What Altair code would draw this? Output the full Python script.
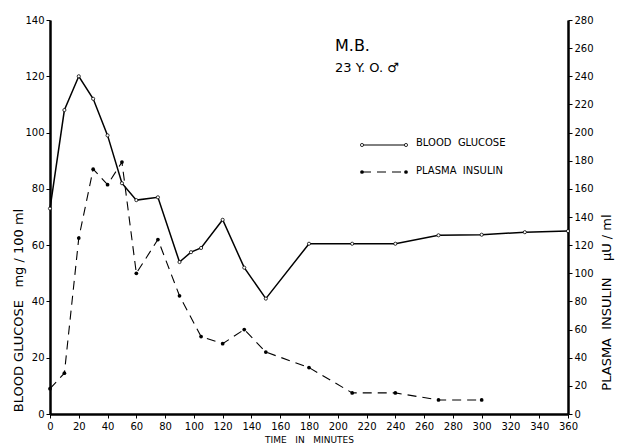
import altair as alt
import pandas as pd

# Blood glucose (mg/100 ml)
t_glucose = [0, 10, 20, 30, 40, 50, 60, 75, 90, 98, 105, 120, 135, 150, 180, 210, 240, 270, 300, 330, 360]
glucose = [73, 108, 120, 112, 99, 82, 76, 77, 54, 57.5, 59, 69, 52, 41, 60.5, 60.5, 60.5, 63.5, 63.7, 64.6, 65]

# Plasma insulin (microU/ml)
t_insulin = [0, 10, 20, 30, 40, 50, 60, 75, 90, 105, 120, 135, 150, 180, 210, 240, 270, 300]
insulin = [18, 29, 125, 174, 163, 179, 100, 124, 84, 55, 50, 60, 44, 33, 15, 15, 10, 10]

x_ticks = list(range(0, 361, 20))
left_ticks = list(range(0, 141, 20))
right_ticks = list(range(0, 281, 20))

FONT = "DejaVu Sans"
NB = "\u00a0"

gdf = pd.DataFrame({"t": t_glucose, "v": glucose})
idf = pd.DataFrame({"t": t_insulin, "v": insulin})

xenc = alt.X("t:Q", scale=alt.Scale(domain=[0, 360], nice=False),
             axis=alt.Axis(values=x_ticks, title=f"TIME{NB*3}IN{NB*3}MINUTES", titleFontSize=9,
                           titleFontWeight="normal", titlePadding=4, labelFlush=False,
                           grid=False, labelPadding=3))

yg = alt.Y("v:Q", scale=alt.Scale(domain=[0, 140], nice=False),
           axis=alt.Axis(values=left_ticks, orient="left", grid=False,
                         title=f"BLOOD GLUCOSE{NB*3}mg / 100 ml", titleFontSize=13,
                         titleFontWeight="normal", titleAngle=270, titleX=-32, titleY=290,
                         titleAlign="center", titleBaseline="middle", labelPadding=2))

yi = alt.Y("v:Q", scale=alt.Scale(domain=[0, 280], nice=False),
           axis=alt.Axis(values=right_ticks, orient="right", grid=False,
                         title=f"PLASMA{NB*2}INSULIN{NB*4}\u03bcU / ml", titleFontSize=13,
                         titleFontWeight="normal", titleAngle=270, titleX=38, titleY=282,
                         titleAlign="center", titleBaseline="middle", labelPadding=2))

g_line = alt.Chart(gdf).mark_line(color="black", strokeWidth=1.5).encode(x=xenc, y=yg)
g_pts = alt.Chart(gdf).mark_point(shape="circle", filled=True, fill="white", stroke="black",
                                  strokeWidth=0.8, size=10, opacity=1).encode(x=xenc, y=yg)
gl = alt.layer(g_line, g_pts)

i_line = alt.Chart(idf).mark_line(color="black", strokeWidth=1.1, strokeDash=[9, 6]).encode(x=xenc, y=yi)
i_pts = alt.Chart(idf).mark_point(shape="circle", filled=True, color="black", size=14,
                                  opacity=1).encode(x=xenc, y=yi)
il = alt.layer(i_line, i_pts)

one = pd.DataFrame({"a": [0]})

def txt(s, x, y, size, weight="normal"):
    return alt.Chart(one).mark_text(text=s, font=FONT, fontSize=size, fontWeight=weight,
                                    align="left", baseline="alphabetic", color="black").encode(
        x=alt.value(x), y=alt.value(y))

# annotation and hand-drawn legend (pixel positions relative to plot area)
ann1 = txt("M.B.", 285, 31, 16)
ann2 = txt("23 Y. O. \u2642", 285, 52, 13)
leg1 = txt(f"BLOOD{NB*2}GLUCOSE", 366, 126, 10)
leg2 = txt(f"PLASMA{NB*2}INSULIN", 366, 154, 10)

leg_line1 = alt.Chart(one).mark_rule(color="black", strokeWidth=1).encode(
    x=alt.value(312), x2=alt.value(356), y=alt.value(125))
leg_line2 = alt.Chart(one).mark_rule(color="black", strokeWidth=1.1, strokeDash=[9, 6]).encode(
    x=alt.value(312), x2=alt.value(356), y=alt.value(152))
leg_pt1 = alt.Chart(pd.DataFrame({"px": [312, 356]})).mark_point(
    shape="circle", filled=True, fill="white", stroke="black", strokeWidth=0.8, size=10, opacity=1
).encode(x=alt.X("px:Q", scale=None), y=alt.value(125))
leg_pt2 = alt.Chart(pd.DataFrame({"px": [312, 356]})).mark_point(
    shape="circle", filled=True, color="black", size=14, opacity=1
).encode(x=alt.X("px:Q", scale=None), y=alt.value(152))

decor = alt.layer(ann1, ann2, leg1, leg2, leg_line1, leg_line2, leg_pt1, leg_pt2)

chart = alt.layer(gl, il, decor).resolve_scale(y="independent").properties(
    width=518, height=394,
    autosize=alt.AutoSizeParams(type="none"),
    padding={"left": 50, "top": 20, "right": 50, "bottom": 32},
    background="white",
).configure_view(stroke=None).configure_axis(
    domainColor="black", domainWidth=2.5, tickColor="black", tickSize=4, tickWidth=1,
    labelColor="black", labelFont=FONT, labelFontSize=10, titleFont=FONT, titleColor="black",
)

chart.save("out.html", embed_options={"renderer": "svg", "actions": False})
